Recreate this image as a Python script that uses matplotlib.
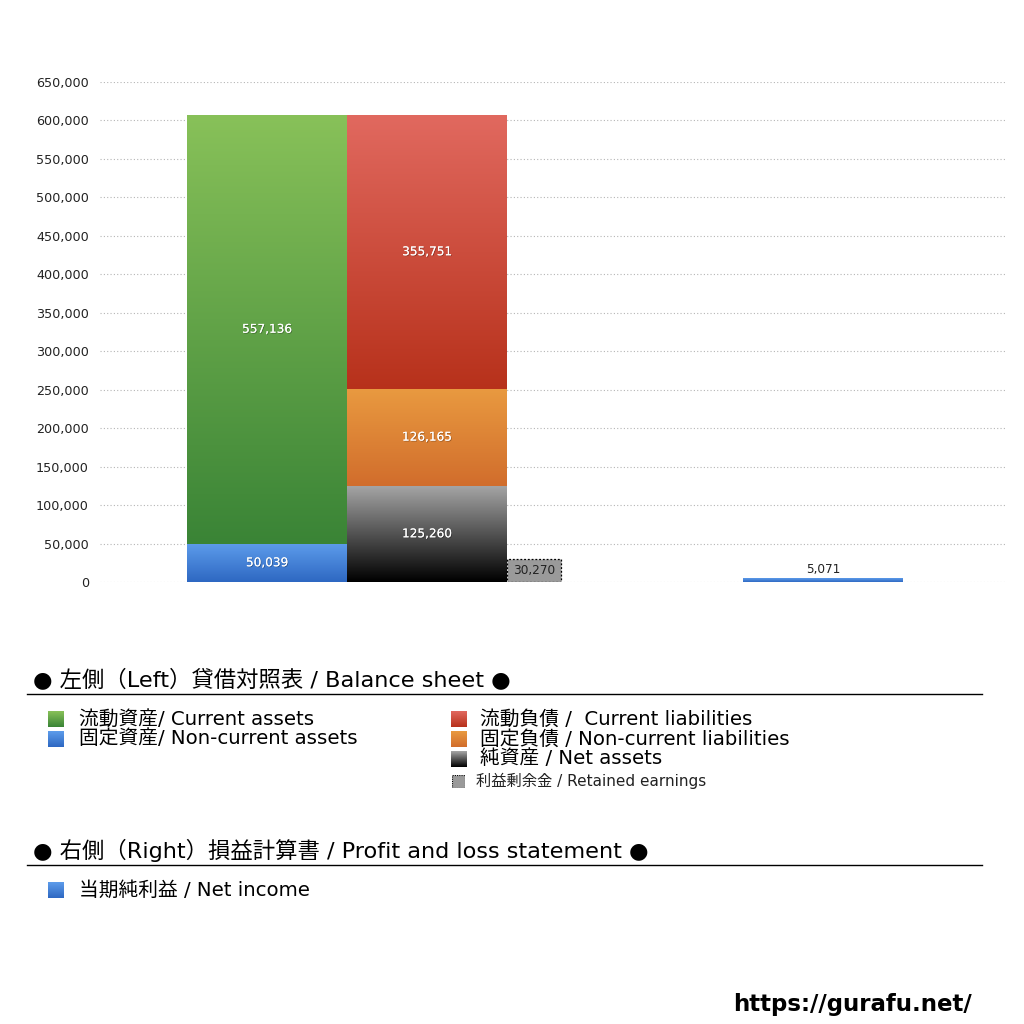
import matplotlib
matplotlib.use("Agg")
import matplotlib.pyplot as plt
import matplotlib.patheffects as pe
import numpy as np
from matplotlib.colors import LinearSegmentedColormap
from matplotlib.patches import Rectangle
from matplotlib.ticker import FuncFormatter

plt.rcParams["font.family"] = ["DejaVu Sans", "Noto Sans CJK JP"]

# balance sheet (left) and profit & loss (right)
current_assets = 557136
noncurrent_assets = 50039
current_liabilities = 355751
noncurrent_liabilities = 126165
net_assets = 125260
retained_earnings = 30270
net_income = 5071

y_ticks = list(range(0, 650001, 50000))

# (top colour, bottom colour)
GREEN = ("#88c159", "#3a8436")
BLUE = ("#5d9ceb", "#2e68c2")
RED = ("#e1695f", "#b7311b")
ORANGE = ("#e99a40", "#d16d2c")
BLACK = ("#a6a6a6", "#000000")


def gradient_bar(ax, x, width, bottom, height, colors):
    cmap = LinearSegmentedColormap.from_list("g", [colors[1], colors[0]])
    grad = np.linspace(0, 1, 256).reshape(-1, 1)
    ax.imshow(grad, cmap=cmap, origin="lower", aspect="auto",
              extent=[x - width / 2, x + width / 2, bottom, bottom + height],
              zorder=2, interpolation="bicubic")


def bar_label(ax, x, y, text):
    ax.text(x, y, text, ha="center", va="center", color="white", fontsize=8.7,
            zorder=5,
            path_effects=[pe.withSimplePatchShadow(offset=(0.6, -0.6),
                                                   shadow_rgbFace="black", alpha=0.3),
                          pe.Normal()])


fig = plt.figure(figsize=(10.24, 10.24), dpi=100)
ax = fig.add_axes([100 / 1024, 1 - 582 / 1024, 905 / 1024, 500 / 1024])

# x in units of bar width
bw = 1.0
x_assets = 1.044
x_liab = x_assets + bw
x_re_left = x_liab + bw / 2
re_w = 0.3375
x_pl = 4.519

gradient_bar(ax, x_assets, bw, 0, noncurrent_assets, BLUE)
gradient_bar(ax, x_assets, bw, noncurrent_assets, current_assets, GREEN)
gradient_bar(ax, x_liab, bw, 0, net_assets, BLACK)
gradient_bar(ax, x_liab, bw, net_assets, noncurrent_liabilities, ORANGE)
gradient_bar(ax, x_liab, bw, net_assets + noncurrent_liabilities,
             current_liabilities, RED)
gradient_bar(ax, x_pl, bw, 0, net_income, BLUE)

ax.bar(x_re_left, retained_earnings, width=re_w, align="edge",
       color="#9a9a9a", edgecolor="black", linestyle=(0, (1.5, 1.5)),
       linewidth=0.9, zorder=3)

bar_label(ax, x_assets, noncurrent_assets / 2, f"{noncurrent_assets:,}")
bar_label(ax, x_assets, noncurrent_assets + current_assets / 2, f"{current_assets:,}")
bar_label(ax, x_liab, net_assets / 2, f"{net_assets:,}")
bar_label(ax, x_liab, net_assets + noncurrent_liabilities / 2,
          f"{noncurrent_liabilities:,}")
bar_label(ax, x_liab, net_assets + noncurrent_liabilities + current_liabilities / 2,
          f"{current_liabilities:,}")
ax.text(x_re_left + re_w / 2, retained_earnings / 2, f"{retained_earnings:,}",
        ha="center", va="center", fontsize=8.7, color="#222222", zorder=5)
ax.text(x_pl, net_income + 3000, f"{net_income:,}", ha="center", va="bottom",
        fontsize=8.7, color="#222222", zorder=5)

ax.set_xlim(0, 905 / 160)
ax.set_ylim(0, 650000)
ax.set_yticks(y_ticks)
ax.yaxis.set_major_formatter(FuncFormatter(lambda v, _: f"{int(v):,}"))
ax.tick_params(axis="y", length=0, pad=8, labelsize=9.2, labelcolor="#222222")
ax.set_xticks([])
for s in ax.spines.values():
    s.set_visible(False)
ax.grid(axis="y", color="#b5b5b5", linestyle=(0, (1, 2)), linewidth=0.8, zorder=0)
ax.set_axisbelow(True)


# legend section, drawn in figure pixels
def fx(px):
    return px / 1024


def fy(py):
    return 1 - py / 1024


def legend_square(px, py, colors, size=16, dotted=False):
    a = fig.add_axes([fx(px), fy(py + size / 2), fx(size), size / 1024])
    if dotted:
        a.add_patch(Rectangle((0, 0), 1, 1, facecolor="#9a9a9a", edgecolor="black",
                              linestyle=(0, (1, 1)), linewidth=0.8))
    else:
        cmap = LinearSegmentedColormap.from_list("g", [colors[1], colors[0]])
        a.imshow(np.linspace(0, 1, 64).reshape(-1, 1), cmap=cmap, origin="lower",
                 aspect="auto", extent=[0, 1, 0, 1])
    a.set_xlim(0, 1)
    a.set_ylim(0, 1)
    a.axis("off")


def heading(py, text):
    fig.text(fx(33), fy(py), text, fontsize=16.1, va="center", ha="left", color="black")
    fig.add_artist(plt.Line2D([fx(27), fx(982)], [fy(py + 15)] * 2,
                              color="black", linewidth=1))


heading(679, "● 左側（Left）貸借対照表 / Balance sheet ●")
heading(850, "● 右側（Right）損益計算書 / Profit and loss statement ●")

left_items = [("流動資産/ Current assets", GREEN, 719),
              ("固定資産/ Non-current assets", BLUE, 739)]
right_items = [("流動負債 /  Current liabilities", RED, 719),
               ("固定負債 / Non-current liabilities", ORANGE, 739),
               ("純資産 / Net assets", BLACK, 759)]

for label, cols, py in left_items:
    legend_square(48, py, cols)
    fig.text(fx(79), fy(py), label, fontsize=14.2, va="center", ha="left")
for label, cols, py in right_items:
    legend_square(451, py, cols)
    fig.text(fx(480), fy(py), label, fontsize=14.2, va="center", ha="left")

legend_square(452, 781, None, size=13, dotted=True)
fig.text(fx(476), fy(781), "利益剰余金 / Retained earnings", fontsize=11,
         va="center", ha="left", color="#222222")

legend_square(48, 890, BLUE)
fig.text(fx(79), fy(890), "当期純利益 / Net income", fontsize=14.2, va="center", ha="left")

fig.text(fx(972), fy(1005), "https://gurafu.net/", fontsize=16.5, fontweight="bold",
         ha="right", va="center")

fig.savefig("out.png", dpi=100)
